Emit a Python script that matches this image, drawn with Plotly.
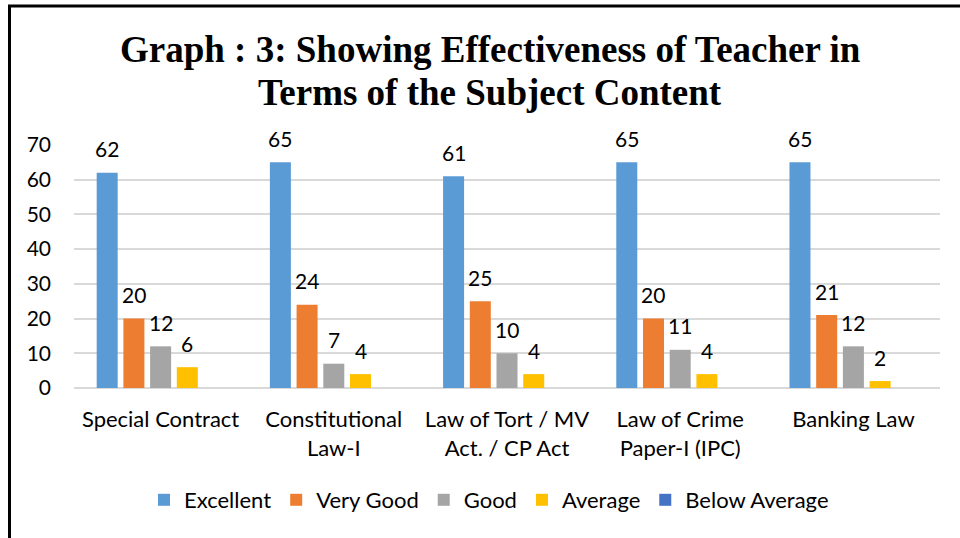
import plotly.graph_objects as go

categories = ["Special Contract", "Constitutional<br>Law-I", "Law of Tort / MV<br>Act. / CP Act",
              "Law of Crime<br>Paper-I (IPC)", "Banking Law"]
excellent = [62, 65, 61, 65, 65]
very_good = [20, 24, 25, 20, 21]
good = [12, 7, 10, 11, 12]
average = [6, 4, 4, 4, 2]
below_average = [0, 0, 0, 0, 0]

series_names = ["Excellent", "Very Good", "Good", "Average", "Below Average"]
series_values = [excellent, very_good, good, average, below_average]
colors = ["#5B9BD5", "#ED7D31", "#A5A5A5", "#FFC000", "#4472C4"]

W, H = 960, 538
L, R, T, B = 74, 20, 145, 150
PW, PH = W - L - R, H - T - B


def px_x(p):
    return (p - L) / PW


def px_y(p):
    return (H - B - p) / PH


FONT = "Lato"
FS = 21
FS_CAT = 22
fig = go.Figure()
for name, vals, col in zip(series_names, series_values, colors):
    fig.add_trace(go.Bar(x=categories, y=vals, name=name, marker=dict(color=col, line=dict(width=0))))

slot = PW / len(categories) * (1 - 0.229) / len(series_names)
annotations = []
for s, (name, vals) in enumerate(zip(series_names, series_values)):
    if name == "Below Average":
        continue
    for c, v in zip(categories, vals):
        annotations.append(dict(x=c, y=v, xref="x", yref="y", text=str(v), showarrow=False,
                                xanchor="center", yanchor="middle",
                                xshift=(s - 2) * slot, yshift=24,
                                font=dict(family=FONT, size=FS, color="#000000")))

annotations.append(dict(x=px_x(490), y=px_y(50), xref="paper", yref="paper", showarrow=False,
                        xanchor="center", yanchor="middle",
                        text="<b>Graph : 3: Showing Effectiveness of Teacher in</b>",
                        font=dict(family="Liberation Serif", size=37, color="#000000")))
annotations.append(dict(x=px_x(490), y=px_y(92), xref="paper", yref="paper", showarrow=False,
                        xanchor="center", yanchor="middle",
                        text="<b>Terms of the Subject Content</b>",
                        font=dict(family="Liberation Serif", size=37, color="#000000")))

fig.update_layout(
    width=W, height=H,
    margin=dict(l=L, r=R, t=T, b=B, autoexpand=False),
    paper_bgcolor="white", plot_bgcolor="white",
    barmode="group", bargap=0.229, bargroupgap=0.213,
    font=dict(family=FONT, size=FS, color="#000000"),
    showlegend=True,
    legend=dict(orientation="h", x=px_x(489), xanchor="center", y=px_y(500), yanchor="middle",
                font=dict(family=FONT, size=FS_CAT, color="#000000"), traceorder="normal"),
    annotations=annotations,
    shapes=[dict(type="rect", xref="paper", yref="paper", x0=px_x(9.5), x1=px_x(1000),
                 y0=px_y(600), y1=px_y(6), line=dict(color="#000000", width=3))],
)
fig.update_xaxes(showgrid=False, showline=False, ticks="", ticklabelstandoff=16,
                 tickfont=dict(family=FONT, size=FS_CAT, color="#000000"))
fig.update_yaxes(range=[0, 70], dtick=10, showgrid=True, gridcolor="#D9D9D9", gridwidth=1.5,
                 zeroline=True, zerolinecolor="#D9D9D9", zerolinewidth=1.5, showline=False,
                 ticklabelstandoff=22, tickfont=dict(family=FONT, size=FS, color="#000000"))

fig.write_html("out.html", config={"displayModeBar": False},
               post_script="document.body.style.margin='0';")
